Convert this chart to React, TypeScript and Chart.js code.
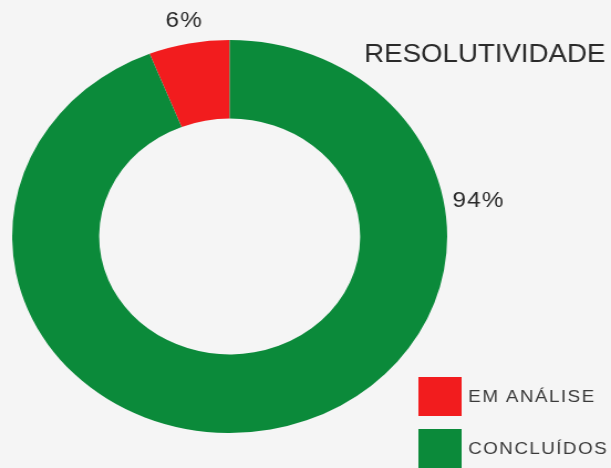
import { useEffect, useRef } from 'react';
import { Chart, registerables } from 'chart.js';

Chart.register(...registerables);

const categories = ['EM ANÁLISE', 'CONCLUÍDOS'];
const values = [6, 94];
const percentLabels = ['6%', '94%'];
const colors = ['#f21c1e', '#0b8a3a'];
const chartTitle = 'RESOLUTIVIDADE';
// label direction (canvas degrees, 0 = 3 o'clock, clockwise); null = arc middle
const labelAngles: (number | null)[] = [null, -9];

const CANVAS_W = 552;
const CANVAS_H = 468;
const SCALE_X = 611 / CANVAS_W;

const overlayPlugin = {
  id: 'overlay',
  afterDraw(chart: any) {
    const ctx = chart.ctx as CanvasRenderingContext2D;
    const meta = chart.getDatasetMeta(0);
    ctx.save();
    ctx.fillStyle = '#2a2a2a';

    // title
    ctx.font = '25px "Liberation Sans", Arial, sans-serif';
    ctx.textAlign = 'right';
    ctx.textBaseline = 'alphabetic';
    ctx.fillText(chartTitle, 547, 62);

    // percentage labels
    ctx.font = '22px "Liberation Sans", Arial, sans-serif';
    (ctx as any).letterSpacing = '1px';
    ctx.textAlign = 'center';
    ctx.textBaseline = 'middle';
    meta.data.forEach((arc: any, i: number) => {
      const p = arc.getProps(['x', 'y', 'outerRadius', 'startAngle', 'endAngle'], true);
      const fixed = labelAngles[i];
      const ang = fixed === null ? (p.startAngle + p.endAngle) / 2 : (fixed * Math.PI) / 180;
      const r = p.outerRadius + (fixed === null ? 23 : 31);
      ctx.fillText(percentLabels[i], p.x + Math.cos(ang) * r, p.y + Math.sin(ang) * r);
    });

    // legend
    ctx.font = '17px "Liberation Sans", Arial, sans-serif';
    (ctx as any).letterSpacing = '1.3px';
    ctx.textAlign = 'left';
    ctx.fillStyle = '#3a3a3a';
    const boxX = 378;
    const boxSize = 39;
    const rowTop = [377, 429];
    categories.forEach((label, i) => {
      const y = rowTop[i];
      ctx.fillStyle = colors[i];
      ctx.fillRect(boxX, y, boxSize, boxSize);
      ctx.fillStyle = '#3a3a3a';
      ctx.fillText(label, boxX + boxSize + 6, y + boxSize / 2 + 1);
    });
    ctx.restore();
  },
};

export default function App() {
  const ref = useRef<HTMLCanvasElement | null>(null);

  useEffect(() => {
    if (!ref.current) return;
    const total = values.reduce((a, b) => a + b, 0);
    const chart = new Chart(ref.current, {
      type: 'doughnut',
      data: {
        labels: categories,
        datasets: [
          {
            data: values,
            backgroundColor: colors,
            borderWidth: 0,
          },
        ],
      },
      options: {
        responsive: false,
        maintainAspectRatio: false,
        animation: false,
        cutout: '60%',
        rotation: -(values[0] / total) * 360,
        layout: { padding: { left: 11, top: 40, right: 148, bottom: 35 } },
        plugins: {
          legend: { display: false },
          title: { display: false },
          tooltip: { enabled: false },
        },
      },
      plugins: [overlayPlugin],
    });
    return () => chart.destroy();
  }, []);

  return (
    <div
      style={{
        position: 'fixed',
        left: 0,
        top: 0,
        width: 611,
        height: 468,
        background: '#f5f5f5',
        overflow: 'hidden',
      }}
    >
      <div style={{ width: CANVAS_W, height: CANVAS_H, transform: `scaleX(${SCALE_X})`, transformOrigin: '0 0' }}>
        <canvas ref={ref} width={CANVAS_W} height={CANVAS_H} style={{ display: 'block', width: CANVAS_W, height: CANVAS_H }} />
      </div>
    </div>
  );
}
